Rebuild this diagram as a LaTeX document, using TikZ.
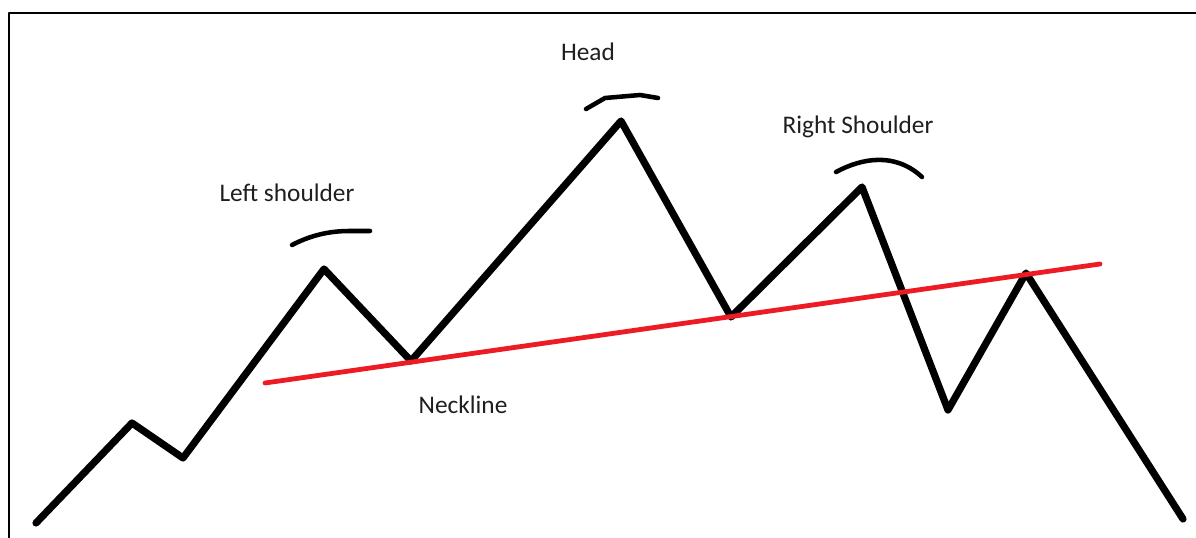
\documentclass[tikz,border=0pt]{standalone}
\usepackage{fontspec}
\setmainfont{Carlito}
\definecolor{NeckRed}{HTML}{ED1C24}
\definecolor{LabelInk}{HTML}{1F1F1F}

\begin{document}
\begin{tikzpicture}[x=0.75pt,y=-0.75pt,line cap=round,line join=round]
  \useasboundingbox (0,0) rectangle (1196,538);
  % frame
  \draw[line width=1.6pt] (9,538) -- (9,13) -- (1196,13);
  % price path
  \coordinate (p0) at (36,523); \coordinate (p1) at (132,423);
  \coordinate (p2) at (183,458); \coordinate (ls) at (324,269);
  \coordinate (t1) at (411,361); \coordinate (hd) at (621,121);
  \coordinate (t2) at (731,317); \coordinate (rs) at (862,187);
  \coordinate (p8) at (948,410); \coordinate (p9) at (1026,273);
  \coordinate (p10) at (1183,519);
  \draw[line width=5.4pt] (p0)--(p1)--(p2)--(ls)--(t1)--(hd)--(t2)--(rs)--(p8)--(p9)--(p10);
  % neckline
  \coordinate (n0) at (265,383); \coordinate (n1) at (1100,264);
  \draw[NeckRed,line width=3.6pt] (n0)--(n1);
  % hand drawn caps
  \draw[line width=3.4pt] (292,245) .. controls (315,233) and (335,231) .. (350,231) -- (370,231);
  \draw[line width=3.4pt] (586,109) -- (605,98) -- (640,95) -- (658,98);
  \draw[line width=3.4pt] (836,172) .. controls (862,158) and (895,152) .. (922,177);
  % labels
  \node[LabelInk,font=\fontsize{19}{22}\selectfont] (lsl) at (287,193) {Left shoulder};
  \node[LabelInk,font=\fontsize{19}{22}\selectfont] (hdl) at (588,52) {Head};
  \node[LabelInk,font=\fontsize{19}{22}\selectfont] (rsl) at (858,127) {Right Shoulder};
  \node[LabelInk,font=\fontsize{19}{22}\selectfont] (nkl) at (463,405) {Neckline};
\end{tikzpicture}
\end{document}
